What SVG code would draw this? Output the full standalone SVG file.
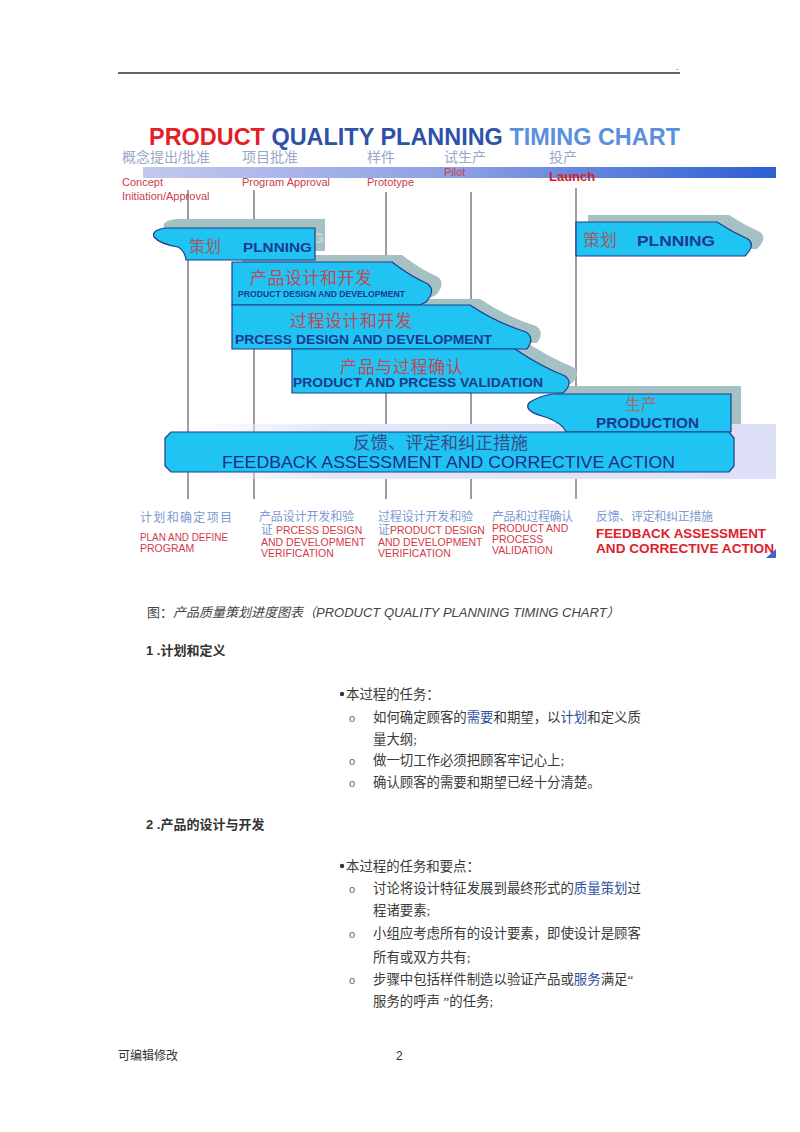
<svg xmlns="http://www.w3.org/2000/svg" width="800" height="1132" viewBox="0 0 800 1132">
<defs>
<linearGradient id="bar" x1="0" y1="0" x2="1" y2="0">
<stop offset="0" stop-color="#c4c8ef"/>
<stop offset="0.5" stop-color="#8b9fe4"/>
<stop offset="1" stop-color="#2c5fd2"/>
</linearGradient>
<linearGradient id="band" x1="0" y1="0" x2="1" y2="0">
<stop offset="0" stop-color="#eceef9" stop-opacity="0"/>
<stop offset="0.25" stop-color="#e4e6f8"/>
<stop offset="1" stop-color="#dcdff6"/>
</linearGradient>
<clipPath id="chartClip"><rect x="118" y="118" width="658" height="440"/></clipPath>
<style>
.cs{font-family:"Liberation Sans","Noto Sans CJK SC",sans-serif}
.body{font-family:"Liberation Serif","Noto Sans CJK SC",serif;font-size:13.4px;fill:#3a3a3a}
.mk{font-family:"Liberation Sans",sans-serif;font-size:11px;fill:#666}
.link{fill:#2d4f9e}
.vl{stroke:#5a5a66;stroke-width:1.2}
.shape{fill:#20c4f2;stroke:#1d3c8c;stroke-width:1.2}
.shadow{fill:#a6c1c4}
.zh{font-family:"Liberation Sans","Noto Sans CJK SC",sans-serif}
.en{font-family:"Liberation Sans",Arial,sans-serif;font-weight:bold;fill:#1b3a8e}
.ph{fill:#98a8c8;font-size:14px}
.pe{fill:#c8404c;font-size:11px}
.bz{fill:#7b9ad2;font-size:12px}
.be{fill:#d23a48;font-size:10.5px}
</style>
</defs>

<rect width="800" height="1132" fill="#ffffff"/>

<g id="header">
<line x1="118" y1="73" x2="680" y2="73" stroke="#333" stroke-width="1.4"/>
<text x="676" y="70" class="cs" font-size="9" fill="#333">.</text>
</g>

<g id="chart" clip-path="url(#chartClip)">
<g id="title" class="cs" font-weight="bold" font-size="23.4">
<text x="149" y="145" textLength="531" lengthAdjust="spacingAndGlyphs"><tspan fill="#e3202a">PRODUCT </tspan><tspan fill="#2e52a8">QUALITY PLANNING </tspan><tspan fill="#5b90dc">TIMING CHART</tspan></text>
</g>

<g id="milestones" class="cs">
<text x="122" y="162" class="ph">概念提出/批准</text>
<text x="242" y="162" class="ph">项目批准</text>
<text x="367" y="162" class="ph">样件</text>
<text x="444" y="162" class="ph">试生产</text>
<text x="549" y="162" class="ph">投产</text>
<rect x="143" y="167" width="633" height="11" fill="url(#bar)"/>
<text x="122" y="186" class="pe">Concept</text>
<text x="122" y="200" class="pe">Initiation/Approval</text>
<text x="242" y="186" class="pe">Program Approval</text>
<text x="367" y="186" class="pe">Prototype</text>
<text x="444" y="176" class="pe" font-size="10" fill="#c82040">Pilot</text>
<text x="549" y="181" font-size="13" font-weight="bold" fill="#d41c24">Launch</text>
</g>

<g id="connectors">
<line class="vl" x1="188" y1="190" x2="188" y2="499"/>
<line class="vl" x1="254" y1="190" x2="254" y2="499"/>
<line class="vl" x1="386" y1="192" x2="386" y2="499"/>
<line class="vl" x1="471" y1="192" x2="471" y2="499"/>
<line class="vl" x1="576" y1="188" x2="576" y2="499"/>
</g>

<g id="shadows">
<rect x="180" y="424" width="596" height="55" fill="url(#band)"/>
<path class="shadow" transform="translate(10,-9)" d="M315,228 L166,228 Q151,230 154,237 Q160,244 178,247 Q185,251 186,260 L315,260 Z"/>
<text x="313" y="243" class="cs" font-size="14" fill="#c4d6d8" font-weight="bold">G</text>
<path class="shadow" transform="translate(10,-7)" d="M232,262 L392,262 Q410,276 428,284 Q436,291 426,302 L420,305 L232,305 Z"/>
<path class="shadow" transform="translate(10,-6)" d="M232,305 L470,305 Q495,322 526,332 Q535,338 527,349 L232,349 Z"/>
<path class="shadow" transform="translate(8,-9)" d="M292,349 L515,349 Q540,366 565,376 Q574,383 563,393 L292,393 Z"/>
<path class="shadow" transform="translate(12,-7)" d="M576,222 L717,222 Q732,232 748,239 Q756,245 745,256 L576,256 Z"/>
<rect class="shadow" x="556" y="386" width="185" height="38"/>
</g>

<g id="planning1">
<path class="shape" d="M315,228 L166,228 Q151,230 154,237 Q160,244 178,247 Q185,251 186,260 L315,260 Z"/>
<text x="189" y="252" class="zh" font-size="16" fill="#9c5c6c">策划</text>
<text x="243" y="252" class="en" font-size="13.5" textLength="69" lengthAdjust="spacingAndGlyphs">PLNNING</text>
</g>

<g id="product-design">
<path class="shape" d="M232,262 L392,262 Q410,276 428,284 Q436,291 426,302 L420,305 L232,305 Z"/>
<text x="250" y="284" class="zh" font-size="17" fill="#c04858" textLength="122">产品设计和开发</text>
<text x="238" y="297" class="en" font-size="8.6" textLength="167" lengthAdjust="spacingAndGlyphs">PRODUCT DESIGN AND DEVELOPMENT</text>
</g>

<g id="process-design">
<path class="shape" d="M232,305 L470,305 Q495,322 526,332 Q535,338 527,349 L232,349 Z"/>
<text x="290" y="327" class="zh" font-size="17" fill="#c04858" textLength="122">过程设计和开发</text>
<text x="235" y="344" class="en" font-size="13.5" textLength="257" lengthAdjust="spacingAndGlyphs">PRCESS  DESIGN AND DEVELOPMENT</text>
</g>

<g id="validation">
<path class="shape" d="M292,349 L515,349 Q540,366 565,376 Q574,383 563,393 L292,393 Z"/>
<text x="340" y="373" class="zh" font-size="17" fill="#c04858" textLength="123">产品与过程确认</text>
<text x="293" y="387" class="en" font-size="13.2" textLength="250" lengthAdjust="spacingAndGlyphs">PRODUCT  AND PRCESS  VALIDATION</text>
</g>

<g id="planning2">
<path class="shape" d="M576,222 L717,222 Q732,232 748,239 Q756,245 745,256 L576,256 Z"/>
<text x="583" y="246" class="zh" font-size="17" fill="#9c5c6c">策划</text>
<text x="637" y="246" class="en" font-size="15" textLength="78" lengthAdjust="spacingAndGlyphs">PLNNING</text>
</g>

<g id="production">
<path class="shape" d="M552,394 L731,394 L731,432 L566,432 Q562,422 542,416 Q522,410 530,402 Q540,396 552,394 Z"/>
<text x="625" y="410" class="zh" font-size="16" fill="#a86878">生产</text>
<text x="596" y="428" class="en" font-size="14" textLength="103" lengthAdjust="spacingAndGlyphs">PRODUCTION</text>
</g>

<g id="feedback">
<path class="shape" d="M171,432 L729,432 L734,438 L734,466 L729,472 L171,472 L165,466 L165,438 Z"/>
<text x="353" y="449" class="zh" font-size="17.5" fill="#3a4a8a" textLength="175">反馈、评定和纠正措施</text>
<text x="222" y="468" class="cs" font-size="17" fill="#1c2c8c" textLength="453" lengthAdjust="spacingAndGlyphs">FEEDBACK ASSESSMENT AND CORRECTIVE ACTION</text>
</g>

<g id="bottom-labels" class="cs">
<text x="140" y="522" class="bz" font-size="13" textLength="92">计划和确定项目</text>
<text x="140" y="541" class="be" textLength="88" lengthAdjust="spacingAndGlyphs">PLAN AND DEFINE</text>
<text x="140" y="552" class="be">PROGRAM</text>

<text x="259" y="521" class="bz" textLength="95">产品设计开发和验</text>
<text x="261" y="534" class="be"><tspan fill="#7b9ad2" font-size="12">证</tspan> PRCESS DESIGN</text>
<text x="261" y="546" class="be">AND DEVELOPMENT</text>
<text x="261" y="557" class="be">VERIFICATION</text>

<text x="378" y="521" class="bz" textLength="95">过程设计开发和验</text>
<text x="378" y="534" class="be"><tspan fill="#7b9ad2" font-size="12">证</tspan>PRODUCT DESIGN</text>
<text x="378" y="546" class="be">AND DEVELOPMENT</text>
<text x="378" y="557" class="be">VERIFICATION</text>

<text x="492" y="521" class="bz" textLength="81">产品和过程确认</text>
<text x="492" y="532" class="be">PRODUCT AND</text>
<text x="492" y="543" class="be">PROCESS</text>
<text x="492" y="554" class="be">VALIDATION</text>

<text x="596" y="521" class="bz" textLength="117">反馈、评定和纠正措施</text>
<text x="596" y="538" font-size="13.4" font-weight="bold" fill="#e0202a" textLength="170" lengthAdjust="spacingAndGlyphs">FEEDBACK ASSESSMENT</text>
<text x="596" y="553" font-size="13.4" font-weight="bold" fill="#e0202a" textLength="178" lengthAdjust="spacingAndGlyphs">AND CORRECTIVE ACTION</text>
<path d="M776,549 L776,558 L766,558 Z" fill="#3a64d0"/>
</g>
</g>

<g id="caption">
<text x="147" y="617" class="cs" font-size="13" fill="#444">图：<tspan font-style="italic">产品质量策划进度图表（PRODUCT QUALITY PLANNING TIMING CHART）</tspan></text>
</g>

<g id="section1">
<text x="146" y="655" class="cs" font-size="13" font-weight="bold" fill="#333">1 .计划和定义</text>
<circle cx="342" cy="694" r="2.2" fill="#333"/>
<text x="346" y="699" class="body">本过程的任务：</text>
<text x="349" y="722" class="mk">o</text>
<text x="373" y="722" class="body">如何确定顾客的<tspan class="link">需要</tspan>和期望，以<tspan class="link">计划</tspan>和定义质</text>
<text x="373" y="744" class="body">量大纲;</text>
<text x="349" y="765" class="mk">o</text>
<text x="373" y="765" class="body">做一切工作必须把顾客牢记心上;</text>
<text x="349" y="787" class="mk">o</text>
<text x="373" y="787" class="body">确认顾客的需要和期望已经十分清楚。</text>
</g>

<g id="section2">
<text x="146" y="829" class="cs" font-size="13" font-weight="bold" fill="#333">2 .产品的设计与开发</text>
<circle cx="342" cy="866" r="2.2" fill="#333"/>
<text x="346" y="871" class="body">本过程的任务和要点：</text>
<text x="349" y="893" class="mk">o</text>
<text x="373" y="893" class="body">讨论将设计特征发展到最终形式的<tspan class="link">质量策划</tspan>过</text>
<text x="373" y="915" class="body">程诸要素;</text>
<text x="349" y="938" class="mk">o</text>
<text x="373" y="938" class="body">小组应考虑所有的设计要素，即使设计是顾客</text>
<text x="373" y="962" class="body">所有或双方共有;</text>
<text x="349" y="984" class="mk">o</text>
<text x="373" y="984" class="body">步骤中包括样件制造以验证产品或<tspan class="link">服务</tspan>满足“</text>
<text x="373" y="1006" class="body">服务的呼声 ”的任务;</text>
</g>

<g id="footer">
<text x="118" y="1060" class="cs" font-size="12" fill="#333">可编辑修改</text>
<text x="396" y="1060" class="cs" font-size="12" fill="#333">2</text>
</g>
</svg>
